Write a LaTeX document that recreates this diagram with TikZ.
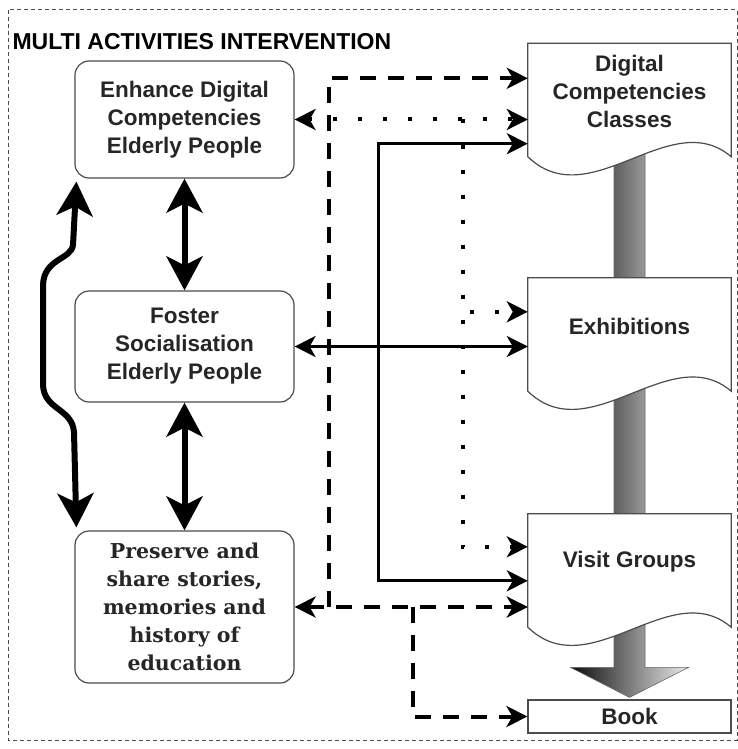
\documentclass[tikz,border=0pt]{standalone}
\usepackage{fontspec}
\setmainfont{Liberation Sans}
\newfontfamily\slabfont{DejaVu Serif}
\usetikzlibrary{arrows.meta,calc,backgrounds,positioning}

\tikzset{
  goalbox/.style={draw=black!70, line width=1.2pt, rounded corners=14pt,
    minimum width=219pt, align=center, text=black!85,
    font=\bfseries\fontsize{22.5}{28}\selectfont},
  docnode/.style={minimum width=203pt, minimum height=96pt, inner sep=0pt,
    align=center, text=black!85, font=\bfseries\fontsize{22.5}{28}\selectfont},
  docline/.style={draw=black!70, line width=1.2pt, fill=white},
  smallhead/.style={>={Stealth[length=21pt,width=21pt,inset=6pt]}},
  bighead/.style={>={Stealth[length=34pt,width=36pt,inset=9pt]}},
  dashlink/.style={smallhead, line width=4pt, dash pattern=on 16pt off 12pt},
  dotlink/.style={smallhead, line width=4pt, dash pattern=on 4pt off 21pt},
  solidlink/.style={smallhead, line width=3pt},
  biglink/.style={bighead, line width=6pt},
  bigflow/.style={left color=black!95, right color=black!8, draw=black!60, line width=0.6pt},
}

% page outline of a document node, wavy at the bottom
\newcommand{\docshape}[1]{%
  \path[docline] (#1.north west) -- (#1.north east) -- ($(#1.south east)+(0,17)$)
    .. controls ($(#1.south east)+(-61,-35)$) and ($(#1.south west)+(62,77)$)
    .. ($(#1.south west)+(0,17)$) -- cycle;}

\begin{document}
\begin{tikzpicture}[x=1pt,y=-1pt]
\useasboundingbox (0,0) rectangle (738,749);
\draw[black!70, line width=1pt, dash pattern=on 4pt off 3pt] (8,10) rectangle (737,740);

\node[anchor=west, font=\bfseries\fontsize{23}{26}\selectfont] (title) at (9,42) {MULTI ACTIVITIES INTERVENTION};

% goals
\node[goalbox, minimum height=117pt] (enh) at (184.5,119.5) {Enhance Digital\\Competencies\\Elderly People};
\node[goalbox, minimum height=111pt] (fos) at (184.5,346.5) {Foster\\Socialisation\\Elderly People};
\node[goalbox, minimum height=152pt, font=\slabfont\bfseries\fontsize{20.5}{28}\selectfont] (pre) at (184.5,607)
  {Preserve and\\share stories,\\memories and\\history of\\education};

% activities
\node[docnode] (dcc) at (629.5,91.5) {Digital\\Competencies\\Classes};
\node[docnode] (exh) at (629.5,326) {Exhibitions};
\node[docnode] (vis) at (629.5,562) {Visit Groups};
\node[docnode, minimum height=33pt, draw=black!70, line width=1.2pt] (book) at (629.5,716.5) {Book};

\begin{pgfonlayer}{background}
\path[bigflow] ($(dcc.south)+(-15.5,0)$) -- ($(book.north)+(-15.5,-32)$) -- ($(book.north)+(-59,-32)$)
  -- ($(book.north)+(0,-2)$) -- ($(book.north)+(59,-32)$) -- ($(book.north)+(15.5,-32)$)
  -- ($(dcc.south)+(15.5,0)$) -- cycle;
\docshape{dcc}
\docshape{exh}
\docshape{vis}
\end{pgfonlayer}

% goal to goal
\draw[biglink,<->] (enh) -- (fos);
\draw[biglink,<->] (fos) -- (pre);
\draw[biglink,<->] ($(enh.south west)+(2,3)$) -- (73,245) .. controls (71,260) and (44,258) .. (43,285)
  -- (43,385) .. controls (44,410) and (72,408) .. (74,432) -- ($(pre.north west)+(2,-3)$);

% dashed links
\coordinate (dashup) at ($(pre.east)+(34,0)$);
\coordinate (dashdown) at ($(pre.east)+(118,0)$);
\draw[dashlink,<->] (pre.east) -- (pre.east -| vis.west);
\draw[dashlink,->] (dashup) |- ($(dcc.north west)+(0,35)$);
\draw[dashlink,->] (dashdown) |- (book.west);

% dotted links
\coordinate (dotsplit) at ($(enh.east)+(168,0)$);
\draw[dotlink,<->] (enh.east) -- (enh.east -| dcc.west);
\draw[dotlink,->] (dotsplit) |- ($(exh.north west)+(0,34)$);
\draw[dotlink,->] (dotsplit) |- ($(vis.north west)+(0,33)$);

% solid links
\coordinate (solidsplit) at ($(fos.east)+(84,0)$);
\draw[solidlink,<->] (fos.east) -- (fos.east -| exh.west);
\draw[solidlink,->] (solidsplit) |- ($(dcc.south west)+(0,4)$);
\draw[solidlink,->] (solidsplit) |- ($(vis.north west)+(0,67)$);
\end{tikzpicture}
\end{document}
